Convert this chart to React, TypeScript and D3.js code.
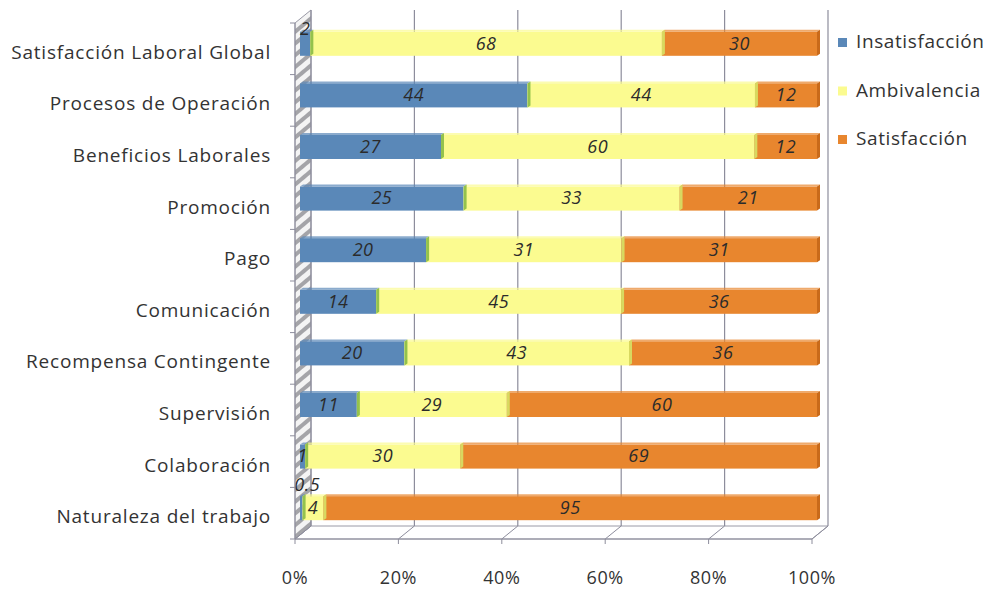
import React from 'react';
import * as d3 from 'd3';

const categories = [
    'Satisfacción Laboral Global',
    'Procesos de Operación',
    'Beneficios Laborales',
    'Promoción',
    'Pago',
    'Comunicación',
    'Recompensa Contingente',
    'Supervisión',
    'Colaboración',
    'Naturaleza del trabajo'
];

const seriesNames = ['Insatisfacción', 'Ambivalencia', 'Satisfacción'];

const insatisfaccion = [2, 44, 27, 25, 20, 14, 20, 11, 1, 0.5];
const ambivalencia = [68, 44, 60, 33, 31, 45, 43, 29, 30, 4];
const satisfaccion = [30, 12, 12, 21, 31, 36, 36, 60, 69, 95];

const tickValues = [0, 20, 40, 60, 80, 100];

const colors = ['#5a88b8', '#fbfb90', '#e8862e'];
const sideColors = ['#94c24c', '#d8d860', '#c96a1a'];

// small nudges for labels that don't fit inside their segment
const labelNudge: Record<string, [number, number]> = {
    '0-0': [0, -15],
    '9-0': [6, -23]
};

export default function App() {

    const container = React.useRef<SVGGElement>(null);

    const front = { left: 295, right: 812, top: 23, bottom: 539 };
    const depth = { dx: 16, dy: -13 };
    const barOff = { dx: 5, dy: -5 };
    const barHeight = 24;
    const font = 'Open Sans, sans-serif';

    React.useEffect(() => {
        document.body.style.margin = '0';
        if (!container.current) return;

        const g = d3.select(container.current);
        g.selectAll('*').remove();

        const x = d3.scaleLinear().domain([0, 100]).range([front.left, front.right]);
        const y = d3.scaleBand().domain(categories).range([front.top, front.bottom]);

        const rows = categories.map((c, i) => {
            const vals = [insatisfaccion[i], ambivalencia[i], satisfaccion[i]];
            const total = d3.sum(vals);
            let acc = 0;
            const segs = vals.map((v, k) => {
                const s = { key: k, value: v, x0: acc / total * 100, x1: (acc + v) / total * 100 };
                acc += v;
                return s;
            });
            return { cat: c, idx: i, segs };
        });

        // pattern for the side wall
        const defs = g.append('defs');
        const pat = defs.append('pattern')
            .attr('id', 'wallHatch')
            .attr('width', 9).attr('height', 9)
            .attr('patternUnits', 'userSpaceOnUse')
            .attr('patternTransform', 'rotate(-40)');
        pat.append('rect').attr('width', 9).attr('height', 9).attr('fill', '#a4a4a8');
        pat.append('rect').attr('width', 9).attr('height', 5).attr('fill', '#f4f4f4');

        // floor
        g.append('path')
            .attr('d', `M${front.left},${front.bottom}L${front.right},${front.bottom}L${front.right + depth.dx},${front.bottom + depth.dy}L${front.left + depth.dx},${front.bottom + depth.dy}Z`)
            .attr('fill', '#ffffff')
            .attr('stroke', '#9a9aa6')
            .attr('stroke-width', 1);

        // side wall
        g.append('path')
            .attr('d', `M${front.left},${front.bottom}L${front.left},${front.top}L${front.left + depth.dx},${front.top + depth.dy}L${front.left + depth.dx},${front.bottom + depth.dy}Z`)
            .attr('fill', 'url(#wallHatch)')
            .attr('stroke', '#9a9aa6');

        // back gridlines + floor diagonals
        g.selectAll('.grid')
            .data(tickValues)
            .join('line')
            .attr('class', 'grid')
            .attr('x1', d => x(d) + depth.dx).attr('x2', d => x(d) + depth.dx)
            .attr('y1', front.top + depth.dy).attr('y2', front.bottom + depth.dy)
            .attr('stroke', '#8d8d9c').attr('stroke-width', 1.2);

        g.selectAll('.floorline')
            .data(tickValues)
            .join('line')
            .attr('class', 'floorline')
            .attr('x1', d => x(d)).attr('x2', d => x(d) + depth.dx)
            .attr('y1', front.bottom).attr('y2', front.bottom + depth.dy)
            .attr('stroke', '#8d8d9c');

        // bars
        const row = g.selectAll('.row')
            .data(rows)
            .join('g')
            .attr('class', 'row')
            .attr('transform', d => `translate(${barOff.dx},${(y(d.cat) as number) + y.bandwidth() / 2 + barOff.dy - barHeight / 2})`);

        row.selectAll('.seg')
            .data(d => d.segs)
            .join('rect')
            .attr('class', 'seg')
            .attr('x', d => x(d.x0))
            .attr('y', 0)
            .attr('width', d => Math.max(0, x(d.x1) - x(d.x0)))
            .attr('height', barHeight)
            .attr('fill', d => colors[d.key]);

        // top faces
        row.selectAll('.top')
            .data(d => d.segs)
            .join('path')
            .attr('class', 'top')
            .attr('d', d => `M${x(d.x0)},0L${x(d.x1)},0L${x(d.x1) + 3},-2L${x(d.x0) + 3},-2Z`)
            .attr('fill', d => colors[d.key])
            .attr('opacity', 0.7);

        // side faces at the end of each segment
        row.selectAll('.side')
            .data(d => d.segs.filter(s => s.value > 0))
            .join('path')
            .attr('class', 'side')
            .attr('d', d => `M${x(d.x1)},0L${x(d.x1) + 3},-2L${x(d.x1) + 3},${barHeight - 2}L${x(d.x1)},${barHeight}Z`)
            .attr('fill', d => sideColors[d.key]);

        // data labels
        row.selectAll('.lbl')
            .data(d => d.segs.map(s => ({ ...s, idx: d.idx })))
            .join('text')
            .attr('class', 'lbl')
            .attr('x', d => (x(d.x0) + x(d.x1)) / 2 + (labelNudge[`${d.idx}-${d.key}`]?.[0] ?? 0))
            .attr('y', d => barHeight / 2 + 1 + (labelNudge[`${d.idx}-${d.key}`]?.[1] ?? 0))
            .attr('text-anchor', 'middle')
            .attr('dominant-baseline', 'middle')
            .attr('font-family', font)
            .attr('font-style', 'italic')
            .attr('font-size', 18)
            .attr('letter-spacing', 0.5)
            .attr('fill', '#2b2b2b')
            .text(d => String(d.value));

        // front x axis
        g.append('line')
            .attr('x1', front.left).attr('x2', front.right)
            .attr('y1', front.bottom).attr('y2', front.bottom)
            .attr('stroke', '#8d8d9c');
        g.selectAll('.xtick')
            .data(tickValues)
            .join('line')
            .attr('class', 'xtick')
            .attr('x1', d => x(d)).attr('x2', d => x(d))
            .attr('y1', front.bottom).attr('y2', front.bottom + 5)
            .attr('stroke', '#8d8d9c');
        g.selectAll('.xlabel')
            .data(tickValues)
            .join('text')
            .attr('class', 'xlabel')
            .attr('x', d => x(d))
            .attr('y', 579)
            .attr('text-anchor', 'middle')
            .attr('dominant-baseline', 'middle')
            .attr('font-family', font)
            .attr('font-size', 18)
            .attr('letter-spacing', 0.6)
            .attr('fill', '#333')
            .text(d => d + '%');

        // y axis
        g.append('line')
            .attr('x1', front.left).attr('x2', front.left)
            .attr('y1', front.top).attr('y2', front.bottom)
            .attr('stroke', '#8d8d9c');
        const bounds = categories.map(c => y(c) as number).concat([front.bottom]);
        g.selectAll('.ytick')
            .data(bounds)
            .join('line')
            .attr('class', 'ytick')
            .attr('x1', front.left - 5).attr('x2', front.left)
            .attr('y1', d => d).attr('y2', d => d)
            .attr('stroke', '#8d8d9c');
        g.selectAll('.ylabel')
            .data(categories)
            .join('text')
            .attr('class', 'ylabel')
            .attr('x', 271)
            .attr('y', d => (y(d) as number) + y.bandwidth() / 2 + 5)
            .attr('text-anchor', 'end')
            .attr('dominant-baseline', 'middle')
            .attr('font-family', font)
            .attr('font-size', 19)
            .attr('letter-spacing', 0.8)
            .attr('fill', '#333')
            .text(d => d);

        // legend
        const leg = g.selectAll('.leg')
            .data(seriesNames)
            .join('g')
            .attr('class', 'leg')
            .attr('transform', (d, i) => `translate(838,${42 + i * 48.5})`);
        leg.append('rect')
            .attr('x', 0).attr('y', -4)
            .attr('width', 9).attr('height', 9)
            .attr('fill', (d, i) => colors[i]);
        leg.append('text')
            .attr('x', 18).attr('y', 1)
            .attr('dominant-baseline', 'middle')
            .attr('font-family', font)
            .attr('font-size', 19)
            .attr('letter-spacing', 0.6)
            .attr('fill', '#333')
            .text(d => d);

    }, []);

    return <div>
        <svg width={990} height={592} style={{ display: 'block', background: '#fff' }}>
            <g ref={container} />
        </svg>
    </div>
}
